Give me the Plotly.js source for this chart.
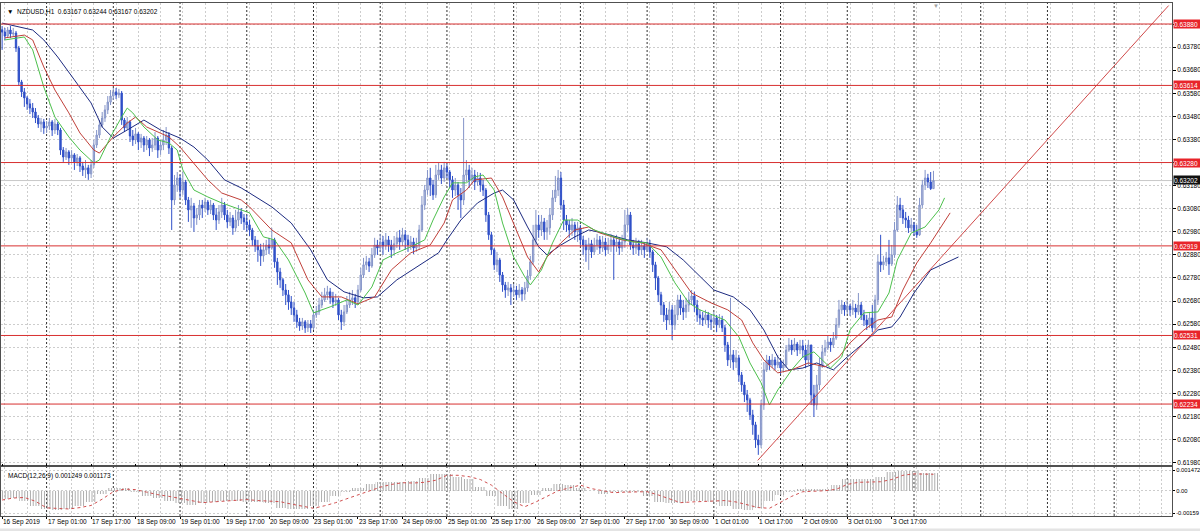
<!DOCTYPE html>
<html><head><meta charset="utf-8">
<script src="https://cdn.plot.ly/plotly-3.0.1.min.js"></script>
<style>html,body{margin:0;padding:0;background:#fff;}#chart{width:1200px;height:531px;}</style>
</head><body><div id="chart"></div>
<script>
// ---------- NZDUSD H1 data (bar index 0 = 16 Sep 2019 09:00) ----------
const firstOpen = 0.63855;
const closes = [0.63845,0.63828,0.63854,0.63837,0.63841,0.63776,0.63629,0.63586,0.63560,0.63534,
0.63516,0.63499,0.63473,0.63447,0.63456,0.63430,0.63438,0.63456,0.63421,0.63447,
0.63421,0.63334,0.63304,0.63326,0.63300,0.63313,0.63283,0.63300,0.63265,0.63248,
0.63257,0.63231,0.63270,0.63356,0.63399,0.63443,0.63473,0.63508,0.63542,0.63568,
0.63586,0.63573,0.63581,0.63464,0.63430,0.63456,0.63395,0.63378,0.63404,0.63369,
0.63386,0.63356,0.63378,0.63343,0.63356,0.63386,0.63334,0.63356,0.63378,0.63399,
0.63343,0.63118,0.63183,0.63213,0.63161,0.63196,0.63118,0.63075,0.63092,0.63040,
0.63053,0.63096,0.63083,0.63109,0.63075,0.63096,0.63053,0.63031,0.63066,0.63096,
0.63053,0.63023,0.63040,0.62997,0.63031,0.63066,0.63040,0.63023,0.63010,0.62988,
0.62945,0.62919,0.62902,0.62876,0.62902,0.62923,0.62910,0.62945,0.62850,0.62806,
0.62772,0.62728,0.62707,0.62676,0.62650,0.62620,0.62590,0.62572,0.62590,0.62564,
0.62581,0.62564,0.62620,0.62633,0.62663,0.62685,0.62707,0.62720,0.62694,0.62676,
0.62685,0.62620,0.62590,0.62633,0.62663,0.62685,0.62694,0.62676,0.62728,0.62793,
0.62837,0.62850,0.62832,0.62880,0.62923,0.62910,0.62936,0.62919,0.62945,0.62923,
0.62902,0.62928,0.62954,0.62936,0.62967,0.62945,0.62923,0.62936,0.62910,0.62923,
0.62988,0.63096,0.63161,0.63213,0.63183,0.63140,0.63226,0.63248,0.63213,0.63257,
0.63239,0.63205,0.63161,0.63183,0.63140,0.63118,0.63226,0.63248,0.63205,0.63226,
0.63196,0.63213,0.63183,0.63161,0.63053,0.62967,0.62902,0.62837,0.62858,0.62793,
0.62750,0.62728,0.62737,0.62720,0.62728,0.62707,0.62728,0.62711,0.62737,0.62789,
0.62850,0.62945,0.63010,0.62988,0.63023,0.62980,0.62997,0.63053,0.63127,0.63161,
0.63213,0.63096,0.63031,0.63010,0.62988,0.63010,0.62980,0.62997,0.62945,0.62923,
0.62902,0.62928,0.62893,0.62923,0.62945,0.62910,0.62936,0.62902,0.62923,0.62945,
0.62919,0.62936,0.62910,0.62936,0.63010,0.63053,0.62923,0.62910,0.62928,0.62902,
0.62919,0.62902,0.62923,0.62893,0.62837,0.62780,0.62707,0.62663,0.62620,0.62598,
0.62642,0.62577,0.62620,0.62685,0.62650,0.62633,0.62663,0.62685,0.62702,0.62663,
0.62620,0.62607,0.62598,0.62620,0.62598,0.62590,0.62607,0.62577,0.62598,0.62564,
0.62490,0.62425,0.62447,0.62416,0.62434,0.62360,0.62317,0.62274,0.62252,0.62187,
0.62144,0.62079,0.62057,0.62230,0.62382,0.62425,0.62403,0.62425,0.62403,0.62416,
0.62390,0.62403,0.62468,0.62490,0.62468,0.62494,0.62468,0.62486,0.62468,0.62425,
0.62490,0.62274,0.62230,0.62317,0.62403,0.62460,0.62477,0.62503,0.62490,0.62520,
0.62577,0.62642,0.62663,0.62642,0.62659,0.62642,0.62650,0.62633,0.62663,0.62620,
0.62598,0.62577,0.62607,0.62564,0.62685,0.62850,0.62837,0.62850,0.62867,0.62841,
0.62880,0.62988,0.63096,0.63075,0.63040,0.63031,0.62997,0.63010,0.62980,0.62967,
0.63096,0.63183,0.63213,0.63196,0.63167,0.63202];
const highs = [0.63871,0.63863,0.63867,0.63871,0.63863,0.63850,0.63785,0.63638,0.63603,0.63568,
0.63555,0.63538,0.63516,0.63486,0.63473,0.63469,0.63460,0.63473,0.63464,0.63469,
0.63456,0.63430,0.63347,0.63343,0.63334,0.63334,0.63321,0.63317,0.63308,0.63283,
0.63291,0.63270,0.63291,0.63378,0.63421,0.63464,0.63499,0.63529,0.63568,0.63594,
0.63603,0.63603,0.63599,0.63590,0.63473,0.63477,0.63464,0.63421,0.63430,0.63412,
0.63404,0.63395,0.63395,0.63386,0.63386,0.63412,0.63395,0.63378,0.63421,0.63434,
0.63412,0.63352,0.63226,0.63239,0.63226,0.63239,0.63205,0.63131,0.63127,0.63105,
0.63083,0.63118,0.63118,0.63127,0.63118,0.63118,0.63105,0.63083,0.63096,0.63127,
0.63109,0.63075,0.63066,0.63053,0.63075,0.63096,0.63083,0.63057,0.63053,0.63031,
0.62997,0.62962,0.62945,0.62928,0.62932,0.62945,0.62954,0.62997,0.62954,0.62867,
0.62824,0.62780,0.62754,0.62728,0.62702,0.62676,0.62642,0.62607,0.62607,0.62598,
0.62598,0.62598,0.62642,0.62659,0.62694,0.62720,0.62737,0.62746,0.62737,0.62720,
0.62711,0.62694,0.62642,0.62663,0.62702,0.62720,0.62728,0.62711,0.62750,0.62824,
0.62867,0.62876,0.62867,0.62910,0.62954,0.62945,0.62971,0.62962,0.62975,0.62962,
0.62945,0.62962,0.62980,0.62988,0.62997,0.62988,0.62967,0.62962,0.62954,0.62954,
0.63010,0.63135,0.63183,0.63248,0.63257,0.63205,0.63270,0.63278,0.63270,0.63283,
0.63274,0.63248,0.63222,0.63213,0.63196,0.63170,0.63473,0.63291,0.63270,0.63257,
0.63248,0.63239,0.63235,0.63205,0.63170,0.63066,0.62980,0.62910,0.62893,0.62867,
0.62806,0.62763,0.62763,0.62754,0.62754,0.62746,0.62754,0.62741,0.62763,0.62815,
0.62876,0.63010,0.63075,0.63053,0.63053,0.63040,0.63031,0.63083,0.63161,0.63222,
0.63248,0.63239,0.63118,0.63053,0.63031,0.63040,0.63023,0.63023,0.63010,0.62962,
0.62945,0.62954,0.62945,0.62954,0.62971,0.62962,0.62962,0.62954,0.62954,0.62971,
0.62962,0.62967,0.62954,0.62967,0.63075,0.63083,0.63066,0.62945,0.62954,0.62945,
0.62945,0.62936,0.62954,0.62945,0.62902,0.62850,0.62789,0.62720,0.62676,0.62650,
0.62676,0.62663,0.62663,0.62707,0.62707,0.62685,0.62694,0.62720,0.62728,0.62720,
0.62685,0.62642,0.62633,0.62642,0.62633,0.62620,0.62633,0.62620,0.62624,0.62616,
0.62577,0.62503,0.62694,0.62468,0.62468,0.62447,0.62373,0.62330,0.62295,0.62261,
0.62209,0.62157,0.62101,0.62252,0.62416,0.62447,0.62442,0.62451,0.62438,0.62447,
0.62425,0.62425,0.62490,0.62520,0.62512,0.62520,0.62503,0.62512,0.62512,0.62490,
0.62512,0.62490,0.62317,0.62360,0.62434,0.62490,0.62512,0.62529,0.62520,0.62546,
0.62607,0.62685,0.62685,0.62676,0.62685,0.62668,0.62685,0.62668,0.62715,0.62676,
0.62642,0.62620,0.62633,0.62663,0.62707,0.62880,0.62967,0.62876,0.62893,0.62945,
0.62923,0.63023,0.63135,0.63127,0.63096,0.63066,0.63049,0.63040,0.63023,0.63010,
0.63127,0.63205,0.63248,0.63231,0.63239,0.63244];
const lows = [0.63768,0.63811,0.63819,0.63819,0.63824,0.63759,0.63612,0.63564,0.63521,0.63508,
0.63490,0.63473,0.63451,0.63430,0.63412,0.63404,0.63408,0.63421,0.63395,0.63404,
0.63399,0.63313,0.63283,0.63291,0.63270,0.63283,0.63248,0.63265,0.63239,0.63222,
0.63213,0.63205,0.63213,0.63257,0.63343,0.63386,0.63430,0.63456,0.63490,0.63529,
0.63551,0.63555,0.63560,0.63443,0.63412,0.63421,0.63369,0.63352,0.63360,0.63334,
0.63343,0.63326,0.63334,0.63308,0.63326,0.63334,0.63300,0.63313,0.63334,0.63356,
0.63317,0.62988,0.63096,0.63153,0.63127,0.63140,0.63096,0.63023,0.62997,0.62980,
0.63010,0.63031,0.63040,0.63066,0.63053,0.63057,0.63031,0.62988,0.63014,0.63040,
0.63031,0.62997,0.63005,0.62967,0.62980,0.63005,0.63014,0.62988,0.62980,0.62962,
0.62919,0.62893,0.62850,0.62832,0.62850,0.62880,0.62884,0.62902,0.62824,0.62750,
0.62737,0.62702,0.62663,0.62642,0.62620,0.62590,0.62564,0.62551,0.62555,0.62542,
0.62546,0.62542,0.62555,0.62607,0.62620,0.62650,0.62676,0.62685,0.62668,0.62650,
0.62659,0.62598,0.62555,0.62572,0.62624,0.62650,0.62663,0.62650,0.62663,0.62720,
0.62780,0.62815,0.62806,0.62824,0.62867,0.62880,0.62893,0.62880,0.62902,0.62893,
0.62867,0.62876,0.62910,0.62902,0.62919,0.62902,0.62893,0.62902,0.62884,0.62893,
0.62902,0.62980,0.63075,0.63140,0.63135,0.63118,0.63127,0.63205,0.63187,0.63196,
0.63213,0.63170,0.63127,0.63135,0.63075,0.63040,0.63096,0.63196,0.63170,0.63183,
0.63161,0.63179,0.63153,0.63135,0.63023,0.62945,0.62880,0.62815,0.62806,0.62763,
0.62720,0.62694,0.62702,0.62663,0.62698,0.62685,0.62694,0.62681,0.62685,0.62720,
0.62772,0.62837,0.62923,0.62954,0.62962,0.62945,0.62945,0.62967,0.63031,0.63109,
0.63135,0.63075,0.62988,0.62980,0.62954,0.62962,0.62945,0.62936,0.62919,0.62880,
0.62850,0.62815,0.62867,0.62880,0.62902,0.62884,0.62893,0.62876,0.62884,0.62893,
0.62772,0.62893,0.62880,0.62893,0.62910,0.62980,0.62902,0.62880,0.62884,0.62876,
0.62880,0.62867,0.62893,0.62867,0.62806,0.62728,0.62676,0.62620,0.62590,0.62555,
0.62577,0.62512,0.62555,0.62598,0.62620,0.62598,0.62607,0.62633,0.62663,0.62633,
0.62590,0.62577,0.62572,0.62581,0.62564,0.62555,0.62572,0.62546,0.62564,0.62546,
0.62460,0.62399,0.62390,0.62382,0.62390,0.62330,0.62287,0.62243,0.62200,0.62165,
0.62101,0.62044,0.62014,0.62044,0.62209,0.62373,0.62382,0.62390,0.62382,0.62390,
0.62364,0.62373,0.62390,0.62460,0.62447,0.62460,0.62442,0.62451,0.62434,0.62390,
0.62403,0.62230,0.62178,0.62209,0.62295,0.62390,0.62442,0.62468,0.62460,0.62477,
0.62512,0.62564,0.62624,0.62616,0.62624,0.62616,0.62620,0.62607,0.62620,0.62598,
0.62572,0.62555,0.62564,0.62546,0.62555,0.62663,0.62806,0.62815,0.62832,0.62793,
0.62832,0.62867,0.62980,0.63040,0.63014,0.62997,0.62975,0.62980,0.62962,0.62954,
0.62962,0.63083,0.63161,0.63170,0.63161,0.63167];

// Alligator lines (shifted forward as drawn)
const jawBars = [0,11,15,20,26,32,36,40,45,51,57,64,69,74,80,86,89,97,104,111,117,123,130,135,142,149,157,160,165,171,177,180,184,189,193,196,201,206,211,216,225,232,239,245,251,256,263,269,274,279,283,288,293,299,304,310,315,320,323,328,334,344];
const jawVals = [0.63884,0.63854,0.63811,0.63737,0.63638,0.63538,0.63434,0.63386,0.63421,0.63464,0.63421,0.63386,0.63347,0.63291,0.63205,0.63170,0.63148,0.63088,0.63018,0.62902,0.62772,0.62720,0.62694,0.62698,0.62772,0.62828,0.62889,0.62945,0.63031,0.63105,0.63148,0.63161,0.63118,0.63001,0.62915,0.62880,0.62923,0.62958,0.62988,0.62975,0.62945,0.62932,0.62915,0.62858,0.62785,0.62728,0.62698,0.62642,0.62555,0.62438,0.62382,0.62390,0.62412,0.62382,0.62438,0.62499,0.62555,0.62568,0.62611,0.62715,0.62815,0.62871];
const teethBars = [1,8,11,15,19,24,28,33,35,40,45,48,52,60,64,69,74,79,86,89,97,104,110,115,122,128,134,140,147,154,159,162,167,170,176,180,185,189,193,196,201,206,211,215,223,230,237,243,248,255,261,266,270,274,279,284,290,296,301,305,310,315,320,324,329,334,341];
const teethVals = [0.63820,0.63832,0.63811,0.63694,0.63594,0.63495,0.63408,0.63334,0.63321,0.63391,0.63451,0.63477,0.63434,0.63391,0.63347,0.63278,0.63205,0.63148,0.63118,0.63088,0.62988,0.62932,0.62772,0.62698,0.62698,0.62668,0.62698,0.62815,0.62889,0.62923,0.63018,0.63118,0.63161,0.63205,0.63213,0.63131,0.62988,0.62871,0.62806,0.62871,0.62932,0.62988,0.63001,0.62975,0.62945,0.62932,0.62902,0.62802,0.62715,0.62672,0.62642,0.62598,0.62499,0.62425,0.62369,0.62382,0.62412,0.62395,0.62438,0.62499,0.62555,0.62598,0.62611,0.62728,0.62845,0.62932,0.63062];
const lipsBars = [1,8,11,15,19,24,28,33,35,39,43,45,47,51,56,60,63,65,69,74,79,83,89,94,98,103,109,112,118,124,128,133,137,142,147,152,155,159,162,167,170,173,177,180,184,188,190,194,198,202,207,213,220,227,232,237,242,247,251,260,265,269,273,276,279,284,288,292,296,298,302,305,310,315,319,322,327,332,337,339];
const lipsVals = [0.63811,0.63824,0.63768,0.63607,0.63477,0.63391,0.63334,0.63278,0.63291,0.63391,0.63477,0.63516,0.63495,0.63434,0.63378,0.63365,0.63334,0.63248,0.63161,0.63131,0.63105,0.63088,0.63062,0.62958,0.62945,0.62858,0.62715,0.62629,0.62655,0.62685,0.62663,0.62741,0.62858,0.62889,0.62915,0.62945,0.63031,0.63131,0.63192,0.63192,0.63218,0.63226,0.63161,0.63018,0.62871,0.62785,0.62750,0.62815,0.62932,0.63031,0.63031,0.62988,0.62958,0.62936,0.62932,0.62871,0.62759,0.62672,0.62642,0.62598,0.62525,0.62412,0.62326,0.62230,0.62295,0.62382,0.62438,0.62460,0.62412,0.62390,0.62438,0.62555,0.62629,0.62633,0.62715,0.62858,0.62975,0.63001,0.63075,0.63127];

// MACD(12,26,9)
const macdBars = [0,4,8,12,16,20,24,28,32,36,40,44,48,52,56,60,64,68,72,76,80,84,88,92,96,100,104,108,112,116,120,124,128,132,136,140,144,148,152,156,160,164,168,172,176,180,184,188,192,196,200,204,208,212,216,220,224,228,232,236,240,244,248,252,256,260,264,268,272,276,280,284,288,292,296,300,304,308,312,316,320,324,328,332,335];
const macdMain = [-0.0006,-0.0005,-0.0007,-0.0011,-0.0013,-0.0014,-0.0013,-0.0011,-0.0008,-0.0002,
0.0002,0.0002,-0.0001,-0.0004,-0.0005,-0.0007,-0.0009,-0.001,-0.0009,-0.0008,
-0.0007,-0.0007,-0.0008,-0.0008,-0.0009,-0.0012,-0.0013,-0.0013,-0.0011,-0.0008,
-0.0004,-0.0001,0.0002,0.0005,0.0006,0.0006,0.0006,0.0007,0.0009,0.0012,
0.0012,0.001,0.0008,0.0003,-0.0004,-0.0011,-0.0013,-0.0009,-0.0003,0.0002,
0.0005,0.0004,0.0002,0.0,-0.0002,-0.0001,-0.0001,-0.0001,-0.0004,-0.0008,
-0.0009,-0.0009,-0.0007,-0.0007,-0.0008,-0.0011,-0.0013,-0.0014,-0.0012,-0.0007,
-0.0003,-0.0001,0.0001,0.0001,0.0001,0.0004,0.0008,0.0008,0.0008,0.001,
0.0013,0.0014,0.0014,0.00126,0.001249];
const macdSignal = [-0.00066,-0.00052,-0.00048,-0.00075,-0.00122,-0.00128,-0.0013,-0.0012,-0.00105,-0.0006,
-0.00007,0.00012,0.00008,-0.0001,-0.00028,-0.0004,-0.00053,-0.0007,-0.00085,-0.0008,
-0.00075,-0.00065,-0.00063,-0.0007,-0.00075,-0.00078,-0.00095,-0.0011,-0.00125,-0.00107,
-0.00085,-0.00057,-0.0003,-0.00005,0.00025,0.00045,0.00057,0.00055,0.0006,0.00075,
0.0011,0.0011,0.001,0.0008,0.0004,-0.0002,-0.00078,-0.00114,-0.0008,-0.0004,
0.0,0.0002,0.0004,0.00015,0.0,-0.00014,-0.0001,-0.00007,-0.00007,-0.0003,
-0.0006,-0.00085,-0.0008,-0.00077,-0.0007,-0.0007,-0.0008,-0.001,-0.0012,-0.00125,
-0.0008,-0.0004,-0.00007,-0.00003,0.0,0.0001,0.00045,0.0006,0.00064,0.00064,
0.0008,0.0011,0.0012,0.00118,0.001173];

// Axis labels
const timeLabelBars = [0,16,32,48,64,80,96,112,128,144,160,176,192,208,224,240,256,272,288,304,320];
const timeLabels = ["16 Sep 2019","17 Sep 01:00","17 Sep 17:00","18 Sep 09:00","19 Sep 01:00","19 Sep 17:00","20 Sep 09:00","23 Sep 01:00","23 Sep 17:00","24 Sep 09:00","25 Sep 01:00","25 Sep 17:00","26 Sep 09:00","27 Sep 01:00","27 Sep 17:00","30 Sep 09:00","1 Oct 01:00","1 Oct 17:00","2 Oct 09:00","3 Oct 01:00","3 Oct 17:00"];
const daySeparatorBars = [16,40,64,88,112,136,160,184,208,232,256,280,304,328,352,376,400];
const priceTicks = [0.6198,0.6208,0.6218,0.6228,0.6238,0.6248,0.6258,0.6268,0.6278,0.6288,0.6298,0.6308,0.6318,0.6328,0.6338,0.6348,0.6358,0.6368,0.6378,0.6388];
const priceTickText = ["0.61980","0.62080","0.62180","0.62280","0.62380","0.62480","0.62580","0.62680","0.62780","0.62880","0.62980","0.63080","0.63180","","0.63380","0.63480","0.63580","0.63680","0.63780",""];
const macdTicks = [0.001472,0,-0.00159];
const macdTickText = ["0.001472","0.00","-0.00159"];

// Drawn objects
const levelPrices = [0.63880,0.63614,0.63280,0.62919,0.62531,0.62234];
const bidPrice = 0.63202;
const trendBars = [271.8,419.6];
const trendPrices = [0.61990,0.63960];
const chartShiftBar = 336;
const headerText = "NZDUSD,H1  0.63167 0.63244 0.63167 0.63202";
const macdLabel = "MACD(12,26,9) 0.001249 0.001173";

// ---------- build ----------
const barIndex = closes.map((_, i) => i);
const opens = [firstOpen].concat(closes.slice(0, -1));
const FONT = "Liberation Sans, Arial, sans-serif";

const traces = [
  {type:'candlestick', x:barIndex, open:opens, high:highs, low:lows, close:closes,
   xaxis:'x', yaxis:'y', whiskerwidth:0, hoverinfo:'skip',
   increasing:{line:{color:'#8494c8', width:1}, fillcolor:'#bcc5e2'},
   decreasing:{line:{color:'#3050c8', width:1}, fillcolor:'#3050c8'}},
  {type:'scatter', mode:'lines', x:jawBars, y:jawVals, xaxis:'x', yaxis:'y', line:{color:'#1c2a80', width:1}, hoverinfo:'skip'},
  {type:'scatter', mode:'lines', x:teethBars, y:teethVals, xaxis:'x', yaxis:'y', line:{color:'#c0403a', width:1}, hoverinfo:'skip'},
  {type:'scatter', mode:'lines', x:lipsBars, y:lipsVals, xaxis:'x', yaxis:'y', line:{color:'#4cc04c', width:1}, hoverinfo:'skip'},
  {type:'scatter', mode:'lines', x:trendBars, y:trendPrices, xaxis:'x', yaxis:'y', line:{color:'#d04a4a', width:1}, hoverinfo:'skip'},
  {type:'bar', x:macdBars, y:macdMain, width:4, xaxis:'x', yaxis:'y2', hoverinfo:'skip',
   marker:{color:'rgba(0,0,0,0)', line:{width:0}, pattern:{shape:'|', fgcolor:'#a8a8a8', bgcolor:'rgba(255,255,255,0)', size:2.8, solidity:0.35}}},
  {type:'scatter', mode:'lines', x:macdBars, y:macdSignal, xaxis:'x', yaxis:'y2', line:{color:'#d05050', width:1, dash:'dot'}, hoverinfo:'skip'}
];

const shapes = [];
daySeparatorBars.forEach(b => shapes.push({type:'line', xref:'x', yref:'paper', x0:b, x1:b, y0:0, y1:1, layer:'between', line:{color:'#303030', width:1, dash:'2px,2px'}}));
shapes.push({type:'line', xref:'paper', yref:'y', x0:0, x1:1, y0:bidPrice, y1:bidPrice, layer:'between', line:{color:'#c8c8c8', width:1}});
levelPrices.forEach(p => shapes.push({type:'line', xref:'paper', yref:'y', x0:0, x1:1, y0:p, y1:p, layer:'above', line:{color:'#d83030', width:1}}));
shapes.push({type:'rect', xref:'paper', yref:'paper', x0:-0.01, x1:1.03, y0:-0.0295, y1:-0.0245, line:{width:0}, fillcolor:'#e4e4e4'});

const annotations = [];
levelPrices.forEach(p => annotations.push({xref:'paper', yref:'y', x:1, y:p, xanchor:'left', yanchor:'middle', xshift:1,
  text:p.toFixed(5), showarrow:false, bgcolor:'#e8242a', font:{family:FONT, size:6.5, color:'#ffffff'}, width:26, height:8, borderpad:0, align:'left'}));
annotations.push({xref:'paper', yref:'y', x:1, y:bidPrice, xanchor:'left', yanchor:'bottom', xshift:1, yshift:-4,
  text:bidPrice.toFixed(5), showarrow:false, bgcolor:'#101010', font:{family:FONT, size:6.5, color:'#ffffff'}, width:26, height:8, borderpad:0, align:'left'});
annotations.push({xref:'paper', yref:'paper', x:0, y:1, xanchor:'left', yanchor:'top', xshift:4, yshift:-3,
  text:'▼  ' + headerText, showarrow:false, font:{family:FONT, size:6.5, color:'#000'}});
annotations.push({xref:'paper', yref:'paper', x:0, y:0.0955, xanchor:'left', yanchor:'top', xshift:5, yshift:-3,
  text:macdLabel, showarrow:false, font:{family:FONT, size:6.5, color:'#000'}});
annotations.push({xref:'x', yref:'paper', x:chartShiftBar, y:1, xanchor:'center', yanchor:'top', yshift:1,
  text:'▼', showarrow:false, font:{family:FONT, size:6, color:'#a0a0a0'}, borderpad:0});
timeLabelBars.forEach((b, i) => annotations.push({xref:'x', yref:'paper', x:b, y:0, xanchor:'left', yanchor:'top', xshift:0, yshift:-1,
  text:timeLabels[i], showarrow:false, font:{family:FONT, size:6.5, color:'#000'}, borderpad:0}));

const layout = {
  width:1200, height:531, margin:{l:1, r:28, t:3, b:15},
  paper_bgcolor:'#ffffff', plot_bgcolor:'#ffffff', showlegend:false, bargap:0,
  font:{family:FONT, size:6.5, color:'#000'},
  xaxis:{range:[-0.4,420.8], anchor:'y2', tickmode:'array', tickvals:timeLabelBars, showticklabels:false,
    ticks:'outside', ticklen:2, tickcolor:'#000', showgrid:false, zeroline:false,
    showline:true, linecolor:'#505050', mirror:'all', rangeslider:{visible:false}, fixedrange:true,
    minor:{tickmode:'linear', tick0:1, dtick:8, showgrid:true, gridcolor:'#cdcdcd', griddash:'2px,2px', ticks:''}},
  yaxis:{domain:[0.0994,1], range:[0.61970,0.63971], side:'right', anchor:'x', tickmode:'array', tickvals:priceTicks,
    ticktext:priceTickText, ticks:'outside', ticklen:3, tickcolor:'#000', showgrid:true, gridcolor:'#cdcdcd', griddash:'2px,2px',
    zeroline:false, showline:true, linecolor:'#505050', mirror:true, fixedrange:true},
  yaxis2:{domain:[0,0.0955], range:[-0.0018,0.00169], side:'right', anchor:'x', tickmode:'array', tickvals:macdTicks,
    ticktext:macdTickText, ticks:'outside', ticklen:2, tickcolor:'#000', tickfont:{size:5.8}, showgrid:true, gridcolor:'#cdcdcd', griddash:'2px,2px',
    zeroline:false, showline:true, linecolor:'#505050', mirror:true, fixedrange:true},
  shapes:shapes, annotations:annotations
};

Plotly.newPlot('chart', traces, layout, {staticPlot:true, displayModeBar:false});
</script></body></html>
